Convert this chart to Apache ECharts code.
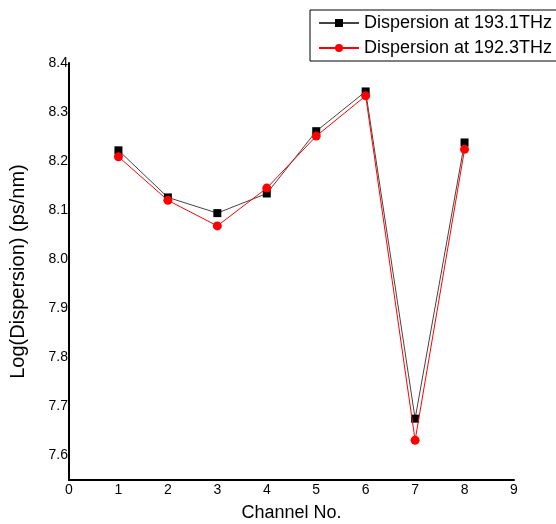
<!DOCTYPE html>
<html>
<head>
<meta charset="utf-8">
<script src="https://cdn.jsdelivr.net/npm/echarts@6/dist/echarts.min.js"></script>
<style>
html, body { margin: 0; padding: 0; background: #fff; }
#chart { width: 556px; height: 524px; }
</style>
</head>
<body>
<div id="chart"></div>
<script>
var channels = [1, 2, 3, 4, 5, 6, 7, 8];
var disp1931 = [8.222, 8.126, 8.094, 8.134, 8.261, 8.342, 7.675, 8.238];
var disp1923 = [8.209, 8.120, 8.068, 8.145, 8.251, 8.333, 7.631, 8.224];
var seriesNames = ['Dispersion at 193.1THz', 'Dispersion at 192.3THz'];

function pairs(xs, ys) {
    return xs.map(function (x, i) { return [x, ys[i]]; });
}

var myChart = echarts.init(document.getElementById('chart'));
var font = 'Liberation Sans, Arial, sans-serif';

var option = {
    animation: false,
    textStyle: { fontFamily: font },
    grid: { left: 69, right: 42, top: 63, bottom: 44, outerBoundsMode: 'none' },
    legend: {
        left: 310,
        top: 10,
        orient: 'vertical',
        itemGap: 7,
        itemWidth: 40,
        itemHeight: 10,
        padding: [4, 20, 4, 8],
        borderColor: '#000',
        borderWidth: 1,
        borderRadius: 0,
        textStyle: { fontSize: 18, color: '#000', fontFamily: font },
        data: seriesNames
    },
    xAxis: {
        type: 'value',
        min: 0,
        max: 9,
        interval: 1,
        name: 'Channel No.',
        nameLocation: 'middle',
        nameGap: 24,
        nameTextStyle: { fontSize: 18, color: '#000', fontFamily: font },
        axisLine: { lineStyle: { color: '#000', width: 2 } },
        axisTick: { show: false },
        splitLine: { show: false },
        axisLabel: { color: '#000', fontSize: 14, margin: 3 }
    },
    yAxis: {
        type: 'value',
        min: 7.55,
        max: 8.4,
        interval: 0.05,
        name: 'Log(Dispersion) (ps/nm)',
        nameLocation: 'middle',
        nameGap: 41,
        nameTextStyle: { fontSize: 20, color: '#000', fontFamily: font },
        axisLine: { show: true, lineStyle: { color: '#000', width: 2 } },
        axisTick: { show: false },
        splitLine: { show: false },
        axisLabel: {
            color: '#000',
            fontSize: 14,
            margin: 1,
            formatter: function (v) {
                return Math.round(v * 100) % 10 === 0 ? v.toFixed(1) : '';
            }
        }
    },
    series: [
        {
            name: seriesNames[0],
            type: 'line',
            data: pairs(channels, disp1931),
            symbol: 'rect',
            symbolSize: 8,
            itemStyle: { color: '#000' },
            lineStyle: { color: '#444', width: 1 },
            z: 2
        },
        {
            name: seriesNames[1],
            type: 'line',
            data: pairs(channels, disp1923),
            symbol: 'circle',
            symbolSize: 9,
            itemStyle: { color: '#ff0000' },
            lineStyle: { color: '#ff0000', width: 1 },
            z: 3
        }
    ]
};
myChart.setOption(option);
window.addEventListener('resize', function () {
    myChart.resize();
});
</script>
</body>
</html>
